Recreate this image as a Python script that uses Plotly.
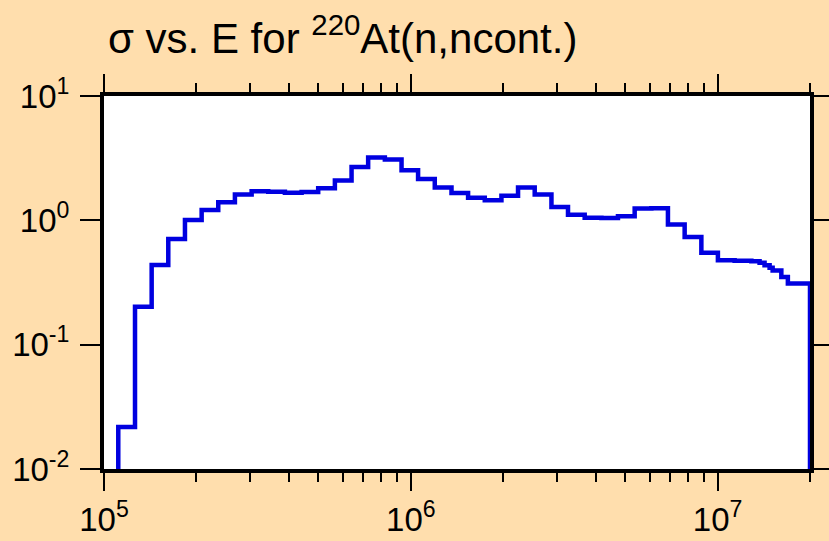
import plotly.graph_objects as go

# bin edges (eV) and cross sections (b)
edges = [1.113e5, 1.262e5, 1.430e5, 1.620e5, 1.836e5, 2.081e5, 2.357e5, 2.671e5,
         3.028e5, 3.430e5, 3.887e5, 4.406e5, 4.990e5, 5.656e5, 6.410e5, 7.260e5,
         8.230e5, 9.327e5, 1.056e6, 1.197e6, 1.357e6, 1.537e6, 1.742e6, 1.974e6,
         2.236e6, 2.534e6, 2.873e6, 3.253e6, 3.687e6, 4.180e6, 4.733e6, 5.365e6,
         6.081e6, 6.887e6, 7.807e6, 8.850e6, 1.002e7, 1.136e7, 1.288e7, 1.370e7,
         1.422e7, 1.477e7, 1.511e7, 1.613e7, 1.694e7, 2.0e7]
sigma = [0.0218, 0.202, 0.437, 0.707, 1.005, 1.21, 1.40, 1.61,
         1.71, 1.70, 1.67, 1.69, 1.81, 2.09, 2.68, 3.20,
         3.08, 2.53, 2.15, 1.84, 1.66, 1.52, 1.45, 1.58,
         1.84, 1.61, 1.28, 1.11, 1.047, 1.045, 1.08, 1.245,
         1.25, 0.927, 0.736, 0.548, 0.478, 0.472, 0.468, 0.455,
         0.435, 0.415, 0.395, 0.35, 0.311]
floor = 1e-4  # zero below threshold / above last edge

x_ticks = [1e5, 1e6, 1e7]
x_text = ["10<sup>5</sup>", "10<sup>6</sup>", "10<sup>7</sup>"]
x_minor = [2e5, 3e5, 4e5, 5e5, 6e5, 7e5, 8e5, 9e5,
           2e6, 3e6, 4e6, 5e6, 6e6, 7e6, 8e6, 9e6, 2e7]
y_ticks = [0.01, 0.1, 1, 10]
y_text = ["10<sup>-2</sup>", "10<sup>-1</sup>", "10<sup>0</sup>", "10<sup>1</sup>"]

bg = "#FFDEAD"
fnt = "Liberation Sans, Arial, sans-serif"

xs = [edges[0]] + edges
ys = [floor] + sigma + [floor]

fig = go.Figure()
fig.add_trace(go.Scatter(x=xs, y=ys, mode="lines", line_shape="hv",
                         line=dict(color="#0000E0", width=4.5), showlegend=False))

fig.update_layout(
    width=829, height=541,
    margin=dict(l=104, r=19, t=96, b=72),
    paper_bgcolor=bg, plot_bgcolor="white",
    font=dict(family=fnt, size=33, color="black"),
    title=dict(text="σ vs. E for <sup>220</sup>At(n,ncont.)", x=108 / 829, xanchor="left",
               y=0.93, yanchor="middle", font=dict(family=fnt, size=42, color="black")),
)
fig.update_xaxes(type="log", range=[5, 7.30103], showgrid=False, zeroline=False,
                 automargin=False,
                 showline=True, linewidth=4, linecolor="black", mirror="allticks",
                 ticks="outside", ticklen=18, tickwidth=2, tickcolor="black",
                 tickmode="array", tickvals=x_ticks, ticktext=x_text,
                 minor=dict(tickmode="array", tickvals=x_minor, ticks="outside",
                            ticklen=9, tickwidth=2, tickcolor="black", showgrid=False))
fig.update_yaxes(type="log", range=[-2, 1], showgrid=False, zeroline=False,
                 automargin=False,
                 showline=True, linewidth=4, linecolor="black", mirror="allticks",
                 ticks="outside", ticklen=20, tickwidth=2, tickcolor="black",
                 ticklabelstandoff=4,
                 tickmode="array", tickvals=y_ticks, ticktext=y_text)

# drop the default page margin so the figure sits at the window corner
fig.write_html("out.html", config={"displayModeBar": False},
               post_script="document.body.style.margin='0';document.body.style.background='%s';" % bg)
